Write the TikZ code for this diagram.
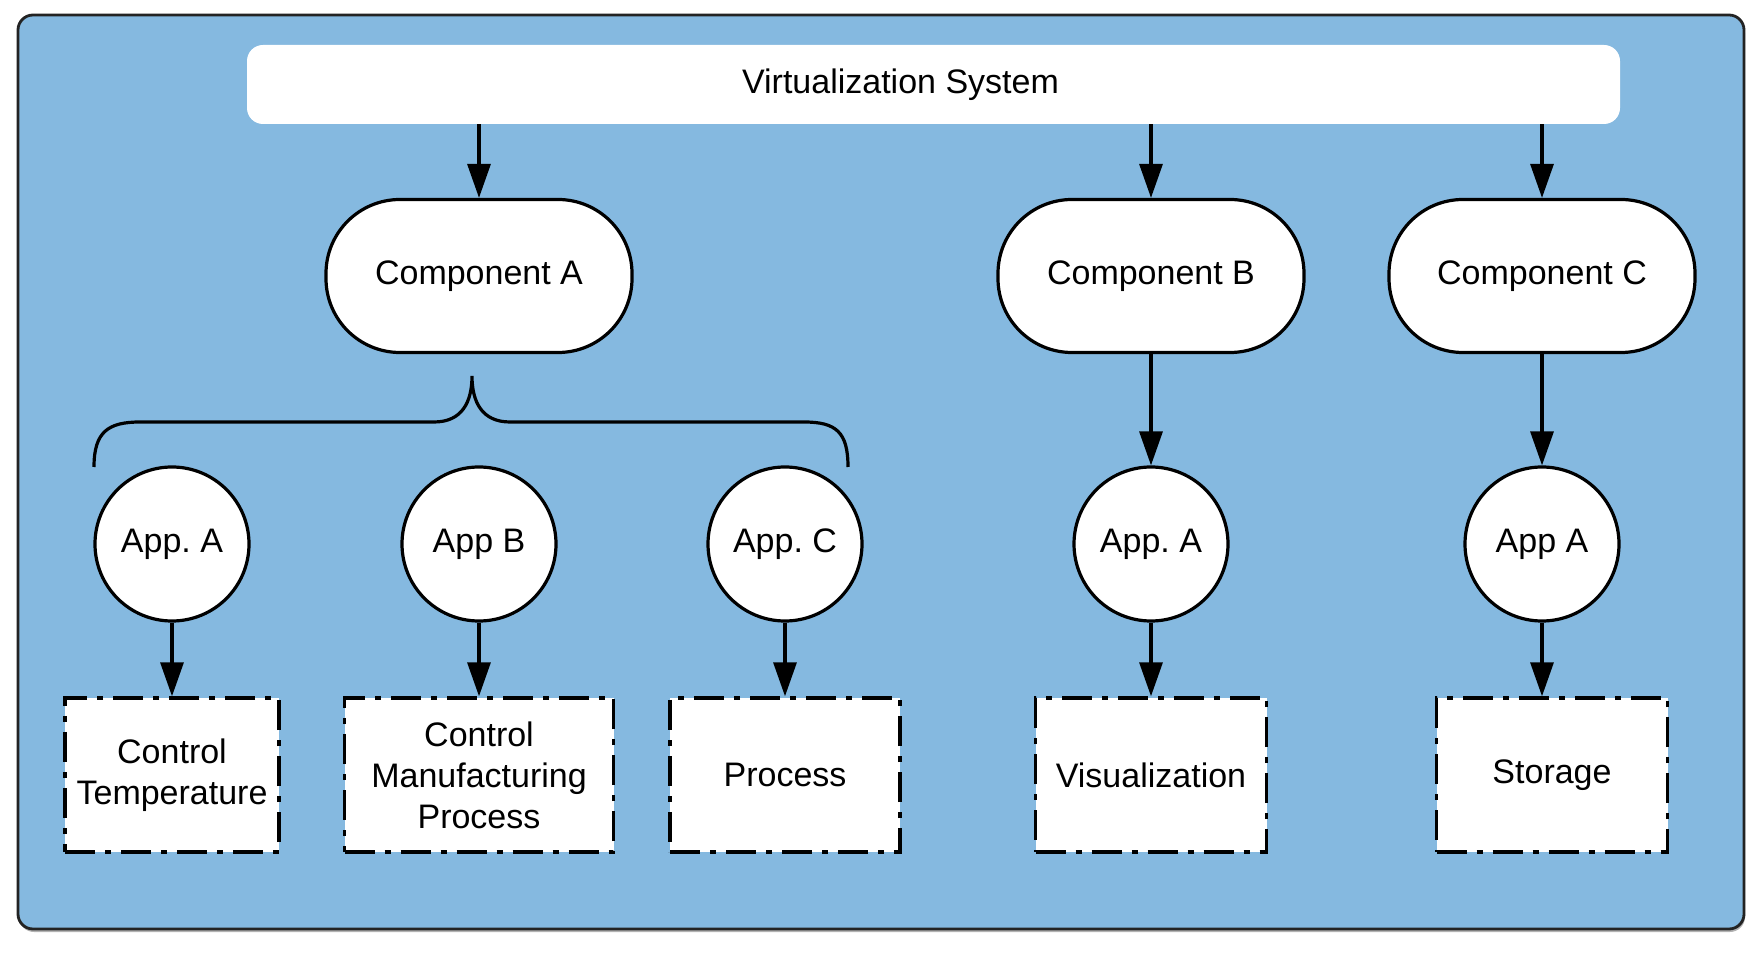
\documentclass[tikz,border=0pt]{standalone}
\usepackage{fontspec}
\setmainfont{Liberation Sans}
\usetikzlibrary{arrows.meta}
\definecolor{panelblue}{RGB}{133,185,224}
\definecolor{framegray}{RGB}{35,35,35}

\begin{document}
\begin{tikzpicture}[
  x=0.5pt, y=-0.5pt,
  every node/.style={font=\fontsize{17}{20.5}\selectfont\frenchspacing, align=center, inner sep=0pt},
  comp/.style={draw, line width=1.6pt, fill=white, rounded corners=37pt, minimum width=153pt, minimum height=76.5pt},
  app/.style={draw, circle, line width=1.6pt, fill=white, minimum size=77pt},
  task/.style={draw, line width=1.7pt, fill=white, dash pattern=on 15pt off 5pt on 3pt off 5pt, minimum height=77pt},
  arr/.style={-{Triangle[length=17pt, width=11.5pt]}, line width=1.6pt}
]
\useasboundingbox (0,0) rectangle (1762,972);
\fill[black!30, rounded corners=7.5pt] (19,18) rectangle (1745,932);
\draw[framegray, line width=1.4pt, fill=panelblue, rounded corners=7.5pt] (18,15) rectangle (1744,929);

\node[fill=white, rounded corners=8pt, minimum width=686.5pt, minimum height=39.5pt] (virt) at (933.5,84.5) {Virtualization System\hspace*{33pt}};

\node[comp] (compA) at (479,276) {Component A};
\node[comp] (compB) at (1151,276) {Component B};
\node[comp] (compC) at (1542,276) {Component C};

\node[app] (appA1) at (172,544) {App. A};
\node[app] (appB1) at (479,544) {App B};
\node[app] (appC1) at (785,544) {App. C};
\node[app] (appA2) at (1151,544) {App. A};
\node[app] (appA3) at (1542,544) {App A};

\node[task, minimum width=107pt] (ctrlTemp) at (172,775) {Control\\Temperature};
\node[task, minimum width=134.5pt] (ctrlMfg) at (479,775) {Control\\Manufacturing\\Process};
\node[task, minimum width=115pt] (process) at (785,775) {Process};
\node[task, minimum width=115.5pt] (visual) at (1151,775) {Visualization};
\node[task, minimum width=115.5pt] (storage) at (1552,775) {Storage};

\foreach \c in {compA,compB,compC}
  \draw[arr] (virt.south -| \c.north) -- (\c.north);

\draw[line width=1.6pt] (94,467) .. controls (94,432) and (108,422) .. (140,422) -- (434,422)
  .. controls (462,422) and (472,402) .. (472,376)
  .. controls (472,402) and (482,422) .. (510,422) -- (804,422)
  .. controls (836,422) and (848,432) .. (848,467);

\draw[arr] (compB) -- (appA2);
\draw[arr] (compC) -- (appA3);

\draw[arr] (appA1) -- (ctrlTemp);
\draw[arr] (appB1) -- (ctrlMfg);
\draw[arr] (appC1) -- (process);
\draw[arr] (appA2) -- (visual);
\draw[arr] (appA3) -- (appA3 |- storage.north);

\end{tikzpicture}
\end{document}
